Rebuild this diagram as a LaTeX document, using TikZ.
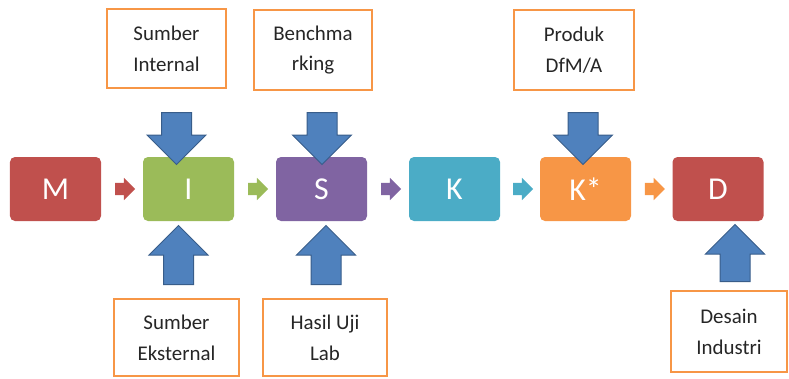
\documentclass[tikz,border=0pt]{standalone}
\usepackage{fontspec}
\setmainfont{Carlito}
\usepackage{tikz}
\usetikzlibrary{shapes.arrows, calc}
\definecolor{msred}{RGB}{192, 80, 77}
\definecolor{msgreen}{RGB}{155, 187, 89}
\definecolor{mspurple}{RGB}{128, 100, 162}
\definecolor{msteal}{RGB}{75, 172, 198}
\definecolor{msorange}{RGB}{247, 150, 70}
\definecolor{msblue}{RGB}{79, 129, 189}
\definecolor{msblueline}{RGB}{56, 93, 138}

\begin{document}
\begin{tikzpicture}[
  x=1bp, y=-1bp,
  stage/.style={rounded corners=5bp, minimum width=91bp, minimum height=64bp, inner sep=0pt, text=white, font=\fontsize{32}{38}\selectfont},
  src/.style={draw=msorange, line width=2.5bp, fill=white, align=center, inner sep=0pt, text=black!85, font=\fontsize{21}{31}\selectfont},
  flow/.style={single arrow, single arrow head extend=5bp, inner xsep=0pt, inner ysep=6bp, minimum height=20bp},
  feed/.style={single arrow, draw=msblueline, line width=1bp, fill=msblue, single arrow head extend=14.5bp, inner xsep=14.5bp, inner ysep=0pt},
]
  \useasboundingbox (0,0) rectangle (789,378);
  % main stages
  \node[stage, fill=msred]     (m)  at (55.5,189)  {M};
  \node[stage, fill=msgreen]   (i)  at (188.5,189) {I};
  \node[stage, fill=mspurple]  (s)  at (321.5,189) {S};
  \node[stage, fill=msteal]    (k)  at (454.5,189) {K};
  \node[stage, fill=msorange]  (ks) at (585.5,189) {K*};
  \node[stage, fill=msred]     (d)  at (718,189)   {D};
  % small arrows between stages
  \node[flow, fill=msred]    (f1) at ($(m.east)!0.5!(i.west)$)   {};
  \node[flow, fill=msgreen]  (f2) at ($(i.east)!0.5!(s.west)$)   {};
  \node[flow, fill=mspurple] (f3) at ($(s.east)!0.5!(k.west)$)   {};
  \node[flow, fill=msteal]   (f4) at ($(k.east)!0.5!(ks.west)$)  {};
  \node[flow, fill=msorange] (f5) at ($(ks.east)!0.5!(d.west)$)  {};
  % input sources
  \node[src, minimum width=119bp, minimum height=79bp] (sint)  at (166.5,48.5) {Sumber\\Internal};
  \node[src, minimum width=118bp, minimum height=80bp] (bench) at (313,50)     {Benchma\\rking};
  \node[src, minimum width=120bp, minimum height=80bp] (prod)  at (574,50)     {Produk\\DfM/A};
  \node[src, minimum width=125bp, minimum height=77bp] (sext)  at (176.5,337.5) {Sumber\\Eksternal};
  \node[src, minimum width=124bp, minimum height=77bp] (hasil) at (325,337.5)   {Hasil Uji\\Lab};
  \node[src, minimum width=116bp, minimum height=81bp] (des)   at (729,331.5)   {Desain\\Industri};
  % block arrows
  \node[feed, minimum height=52bp, shape border rotate=270] (a1) at (176.5,131) {};
  \node[feed, minimum height=52bp, shape border rotate=270] (a2) at (322,131)   {};
  \node[feed, minimum height=52bp, shape border rotate=270] (a3) at (583,131)   {};
  \node[feed, minimum height=59bp, shape border rotate=90]  (a4) at (178.5,262.5) {};
  \node[feed, minimum height=59bp, shape border rotate=90]  (a5) at (326,262.5)   {};
  \node[feed, minimum height=57bp, shape border rotate=90]  (a6) at (735,260.5)   {};
\end{tikzpicture}
\end{document}
